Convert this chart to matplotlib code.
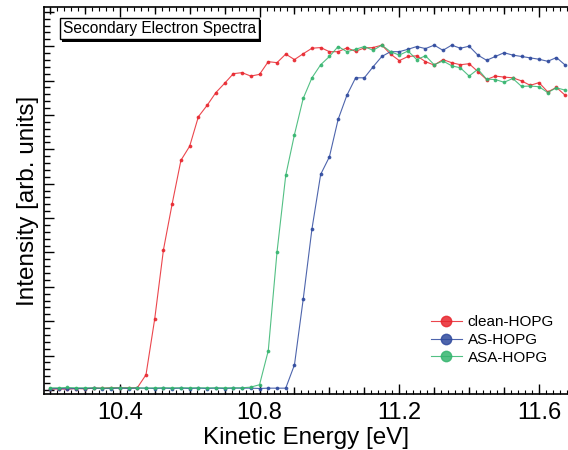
import matplotlib.pyplot as plt
import numpy as np
from matplotlib.ticker import MultipleLocator, NullFormatter
import matplotlib.patheffects as pe

plt.rcParams['font.family'] = ['Liberation Sans', 'DejaVu Sans']

# kinetic energy grid [eV], step 0.025
energy = np.round(np.arange(10.2, 11.676, 0.025), 3)

clean_hopg = [0.02, 0.03, 0.02, 0.04, 0.03, 0.05, 0.05, 0.06, 0.06, 0.06,
              0.06, 0.44, 2.07, 4.08, 5.42, 6.68, 7.09, 7.95, 8.28, 8.65,
              8.92, 9.20, 9.23, 9.13, 9.18, 9.55, 9.52, 9.77, 9.61, 9.78,
              9.94, 9.96, 9.84, 9.84, 9.95, 9.85, 9.95, 9.96, 10.03, 9.77,
              9.58, 9.70, 9.72, 9.55, 9.45, 9.61, 9.52, 9.46, 9.49, 9.26,
              9.03, 9.13, 9.10, 9.08, 8.99, 8.86, 8.94, 8.67, 8.80, 8.57]

as_hopg = [0.03, 0.04, 0.03, 0.04, 0.04, 0.05, 0.04, 0.04, 0.05, 0.04,
           0.05, 0.05, 0.04, 0.05, 0.04, 0.05, 0.04, 0.05, 0.04, 0.05,
           0.04, 0.05, 0.05, 0.05, 0.04, 0.05, 0.05, 0.05, 0.73, 2.64,
           4.68, 6.27, 6.78, 7.87, 8.57, 9.08, 9.08, 9.40, 9.70, 9.84,
           9.84, 9.91, 9.99, 9.93, 10.03, 9.88, 10.03, 9.94, 10.00, 9.74,
           9.59, 9.70, 9.81, 9.74, 9.70, 9.66, 9.62, 9.56, 9.67, 9.45]

asa_hopg = [0.06, 0.06, 0.07, 0.06, 0.06, 0.06, 0.05, 0.06, 0.06, 0.06,
            0.06, 0.05, 0.06, 0.06, 0.06, 0.06, 0.06, 0.06, 0.06, 0.06,
            0.06, 0.06, 0.06, 0.08, 0.15, 1.14, 4.01, 6.24, 7.43, 8.48,
            9.08, 9.46, 9.70, 9.99, 9.84, 9.91, 9.99, 9.88, 10.03, 9.84,
            9.74, 9.86, 9.61, 9.72, 9.46, 9.57, 9.43, 9.37, 9.13, 9.33,
            9.04, 9.03, 8.95, 9.06, 8.83, 8.84, 8.82, 8.65, 8.79, 8.72]

labels = ['clean-HOPG', 'AS-HOPG', 'ASA-HOPG']
colors = ['#e8262e', '#2f4a9e', '#35b56f']

fig = plt.figure(figsize=(5.68, 4.5), dpi=100)
ax = fig.add_axes([44/568, 1 - 394/450, 1 - 44/568, (394 - 7)/450])

for y, lab, col in zip([clean_hopg, as_hopg, asa_hopg], labels, colors):
    ax.plot(energy, y, '-o', color=col, lw=0.8, ms=1.7, label=lab, alpha=0.85)

ax.set_xlim(10.183, 11.683)
ax.set_ylim(-0.12, 11.14)

ax.spines['right'].set_visible(False)
for s in ['left', 'top', 'bottom']:
    ax.spines[s].set_linewidth(1.2)

ax.xaxis.set_major_locator(MultipleLocator(0.4))
ax.xaxis.set_minor_locator(MultipleLocator(0.1))
ax.yaxis.set_major_locator(MultipleLocator(1))
ax.yaxis.set_minor_locator(MultipleLocator(0.2))
ax.yaxis.set_major_formatter(NullFormatter())
ax.tick_params(axis='both', which='both', direction='in', top=True,
               right=False, width=1)
ax.tick_params(axis='x', which='major', length=7, labelsize=17, pad=6)
ax.tick_params(axis='x', which='minor', length=5)
ax.tick_params(axis='y', which='major', length=7)
ax.tick_params(axis='y', which='minor', length=4)

# fine 0.02 eV ticks on top and bottom
for loc in ['top', 'bottom']:
    sec = ax.secondary_xaxis(loc)
    sec.xaxis.set_major_locator(MultipleLocator(0.02))
    sec.xaxis.set_major_formatter(NullFormatter())
    sec.tick_params(direction='in', length=3, width=0.8)
    for s in sec.spines.values():
        s.set_visible(False)

ax.set_xlabel('Kinetic Energy [eV]', fontsize=17.5, labelpad=2)
ax.set_ylabel('Intensity [arb. units]', fontsize=17.5, labelpad=0)

t = ax.text(0.036, 0.963, 'Secondary Electron Spectra', transform=ax.transAxes,
            fontsize=11.2, va='top', ha='left',
            bbox=dict(boxstyle='square,pad=0.2', fc='white', ec='black', lw=1))
t.get_bbox_patch().set_path_effects([
    pe.SimplePatchShadow(offset=(1.5, -1.5), shadow_rgbFace='black', alpha=1),
    pe.Normal()])

leg = ax.legend(loc='lower right', bbox_to_anchor=(0.985, 0.06), frameon=False,
                fontsize=11, markerscale=4.4, handlelength=2.0,
                handletextpad=0.4, labelspacing=0.25, borderaxespad=0)

fig.savefig('out.png', dpi=100)
